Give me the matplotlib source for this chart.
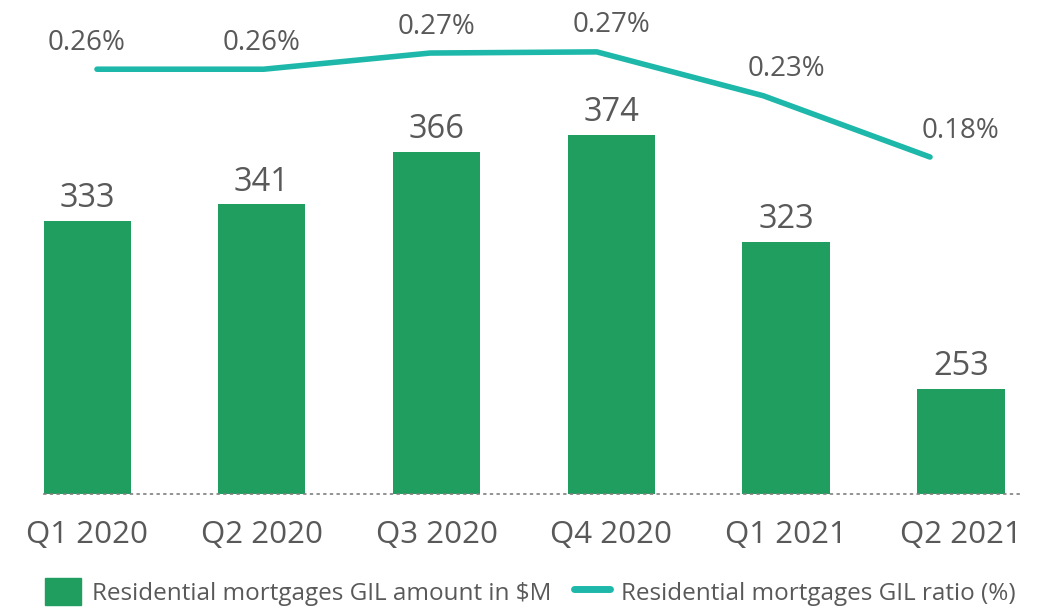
import matplotlib.pyplot as plt
from matplotlib.lines import Line2D
from matplotlib.patches import Patch
from matplotlib import transforms

# Data
quarters = ['Q1 2020', 'Q2 2020', 'Q3 2020', 'Q4 2020', 'Q1 2021', 'Q2 2021']
gil_amount = [333, 341, 366, 374, 323, 253]
gil_ratio = [0.256, 0.256, 0.270, 0.271, 0.233, 0.180]

bar_color = '#1f9e60'
line_color = '#1db8aa'
text_color = '#595959'

plt.rcParams['font.family'] = ['Open Sans', 'DejaVu Sans']

fig = plt.figure(figsize=(10.47, 6.13), dpi=100)
# axes span pixel x 44..1020, y from baseline (494) to top
left, right = 44 / 1047, 1020 / 1047
bottom = 1 - 494 / 613
ax = fig.add_axes([left, bottom, right - left, 1 - bottom])

x = list(range(len(quarters)))
ax.bar(x, gil_amount, width=0.5, color=bar_color)
ax.set_xlim(-0.246, 5.338)
ax.set_ylim(203, 438.3)

for xi, v in zip(x, gil_amount):
    ax.annotate(str(v), (xi, v), xytext=(0, 16), textcoords='offset points',
                ha='center', va='center', fontsize=23.5, color=text_color)

ax.set_xticks(x)
ax.set_xticklabels(quarters, fontsize=22.5, color=text_color)
ax.tick_params(axis='x', length=0, pad=19)
ax.set_yticks([])
for s in ['top', 'right', 'left']:
    ax.spines[s].set_visible(False)
ax.spines['bottom'].set_linestyle((0, (1, 3)))
ax.spines['bottom'].set_color('#7f7f7f')
ax.spines['bottom'].set_linewidth(1.2)

# ratio line lives on its own overlay axes (narrower x spacing)
ax2 = fig.add_axes(ax.get_position(), frameon=False)
ax2.plot(x, gil_ratio, color=line_color, lw=4, solid_capstyle='round',
         solid_joinstyle='round')
ax2.set_xlim(-0.318, 5.540)
ax2.set_ylim(-0.1116, 0.3159)
ax2.set_xticks([])
ax2.set_yticks([])

# ratio labels sit above the bar centres
blend = transforms.blended_transform_factory(ax.transData, ax2.transData)
for xi, r in zip(x, gil_ratio):
    ax2.annotate(f'{r:.2f}%', (xi, r), xycoords=blend, xytext=(0, 19),
                 textcoords='offset points', ha='center', va='center',
                 fontsize=20, color=text_color)

handles = [Patch(color=bar_color),
           Line2D([0], [0], color=line_color, lw=5, solid_capstyle='round')]
labels = ['Residential mortgages GIL amount in $M',
          'Residential mortgages GIL ratio (%)']
fig.legend(handles, labels, loc='lower left', bbox_to_anchor=(0.022, -0.024),
           ncol=2, frameon=False, fontsize=17.5, labelcolor=text_color,
           handlelength=1.5, handleheight=1.3, handletextpad=0.45,
           columnspacing=0.9)

plt.savefig('out.png', dpi=100, facecolor='white')
